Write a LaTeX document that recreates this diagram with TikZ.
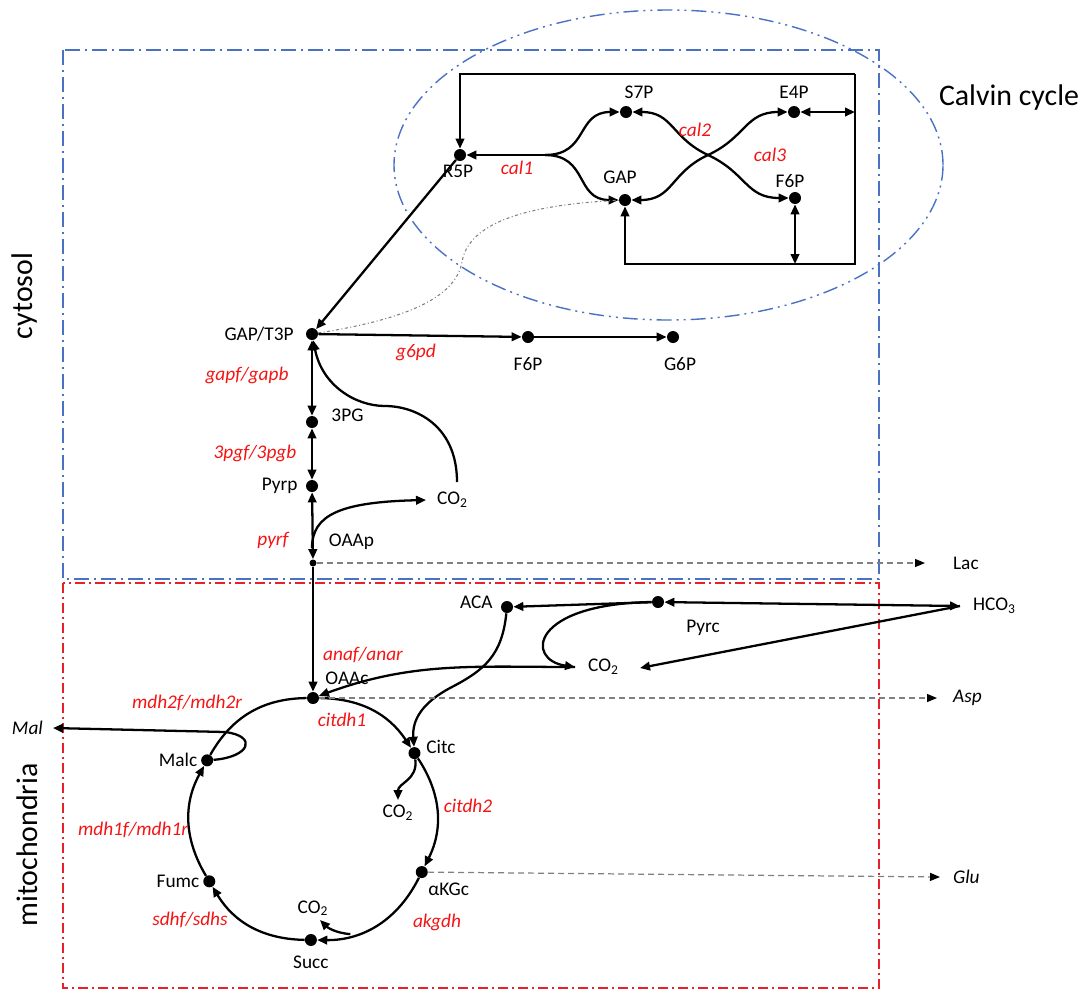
\documentclass[tikz,border=0pt]{standalone}
\usepackage{fontspec}
\setmainfont{Carlito}
\usepackage{xcolor}
\usetikzlibrary{positioning,arrows.meta,calc}
\definecolor{cytblue}{HTML}{4A72C4}
\definecolor{mitred}{HTML}{E8202A}
\definecolor{enzred}{HTML}{F41414}
\tikzset{
  met/.style ={font=\fontsize{11}{13}\selectfont, inner sep=1pt},
  enz/.style ={font=\fontsize{11}{13}\selectfont\itshape, text=enzred, inner sep=1pt},
  ext/.style ={font=\fontsize{11}{13}\selectfont\itshape, inner sep=1pt},
  region/.style={font=\fontsize{17}{20}\selectfont, inner sep=1pt},
  pt/.style  ={circle, fill=black, inner sep=0pt, minimum size=2.4mm},
  spt/.style ={circle, fill=black, inner sep=0pt, minimum size=1.4mm},
  rxn/.style ={line width=1.3pt},
  flux/.style={draw=gray, line width=0.7pt, dash pattern=on 1.2mm off 0.8mm,
               -{Triangle[length=2mm,width=1.6mm,color=black]}},
  cytframe/.style={draw=cytblue, line width=0.8pt, dash pattern=on 3mm off 1mm on 0.4mm off 1mm},
  mitframe/.style={draw=mitred, line width=0.8pt, dash pattern=on 2mm off 0.8mm on 0.4mm off 0.8mm},
  cycframe/.style={draw=cytblue, line width=0.8pt, dash pattern=on 3mm off 1mm on 0.4mm off 1mm on 0.4mm off 1mm},
  link/.style={draw=gray, line width=0.6pt, dash pattern=on 0.6mm off 0.5mm on 0.2mm off 0.5mm},
  >={Triangle[length=2mm,width=1.7mm]},
}

\begin{document}
\begin{tikzpicture}[x=0.2mm, y=0.2mm]
\useasboundingbox (0,0) rectangle (1087,-991);
% compartments
\draw[cytframe] (63,-50) rectangle (879,-579);
\draw[mitframe] (63,-583) rectangle (879,-988);
\draw[cycframe] (668.5,-165) ellipse [x radius=274.5, y radius=155];
\node[region, rotate=90] (cyt) at (25,-296) {cytosol};
\node[region, rotate=90] (mit) at (27,-845) {mitochondria};
\node[region] (calv) at (1009,-98) {Calvin cycle};

% Calvin cycle
\node[pt] (r5p)  at (460,-155) {};
\node[pt] (s7p)  at (626,-112) {};
\node[pt] (gapc) at (625,-200) {};
\node[pt] (e4p)  at (794,-112) {};
\node[pt] (f6pc) at (795,-198) {};
\node[met] (r5pl)  [below=0.3mm of r5p, xshift=-0.4mm] {R5P};
\node[met] (s7pl)  [above=1mm of s7p, xshift=2.6mm] {S7P};
\node[met] (gapcl) [above=1.6mm of gapc, xshift=-1mm] {GAP};
\node[met] (e4pl)  [above=1mm of e4p] {E4P};
\node[met] (f6pcl) [above=0.3mm of f6pc, xshift=-1mm] {F6P};
\coordinate (j1)  at (545,-155);
\coordinate (j2)  at (708,-155);
\coordinate (ctl) at (460,-74);
\coordinate (ctr) at (855,-74);
\coordinate (cbr) at (855,-264);
\coordinate (cbl) at (625,-264);
\coordinate (ce4) at (855,-112);
\coordinate (cf6) at (795,-264);
\draw[rxn,->] (j1) -- (r5p);
\draw[rxn,->] (j1) to[out=0,in=180,looseness=1.3] (s7p);
\draw[rxn,->] (j1) to[out=0,in=180,looseness=1.3] (gapc);
\draw[rxn,->] (j2) to[out=155,in=0,looseness=1.2] (s7p);
\draw[rxn,->] (j2) to[out=-155,in=0,looseness=1.2] (gapc);
\draw[rxn,->] (j2) to[out=25,in=180,looseness=1.2] (e4p);
\draw[rxn,->] (j2) to[out=-25,in=180,looseness=1.2] (f6pc);
\draw[rxn,->] (ctr) -- (ctl) -- (r5p);
\draw[rxn,->] (ctr) -- (cbr) -- (cbl) -- (gapc);
\draw[rxn,<->] (e4p) -- (ce4);
\draw[rxn,<->] (f6pc) -- (cf6);
\node[enz] (cal1) at (517,-168) {cal1};
\node[enz] (cal2) at (695,-130) {cal2};
\node[enz] (cal3) at (770,-155) {cal3};

% cytosol
\node[pt] (t3p)  at (312,-334) {};
\node[pt] (pg3)  at (312,-422) {};
\node[pt] (pyrp) at (312,-486) {};
\node[spt] (oaap) at (313,-563) {};
\node[pt] (f6p)  at (528,-337) {};
\node[pt] (g6p)  at (673,-337) {};
\node[met] (t3pl)  [left=2mm of t3p] {GAP/T3P};
\node[met] (pg3l)  [right=2.2mm of pg3, yshift=1.4mm] {3PG};
\node[met] (pyrpl) [left=1.2mm of pyrp] {Pyrp};
\node[met] (oaapl) [right=2mm of oaap, yshift=4.2mm] {OAAp};
\node[met] (f6pl)  [below=2.4mm of f6p] {F6P};
\node[met] (g6pl)  [below=2.4mm of g6p, xshift=1.4mm] {G6P};
\coordinate (co2ptip) at (426,-500);
\node[met] (co2p) [right=1.8mm of co2ptip] {CO\textsubscript{2}};
\coordinate (co2pup) at (457,-482);
\coordinate (oaapbr) at (312,-548);
\coordinate (lactip) at (925,-563);
\node[met] (lac) [right=5.2mm of lactip] {Lac};
\draw[rxn,->] (r5p) -- (t3p);
\draw[link] (t3p) .. controls (400,-320) and (455,-300) .. (462,-262)
            .. controls (468,-225) and (520,-205) .. (gapc);
\draw[rxn,->] (t3p) -- (f6p);
\draw[rxn,->] (f6p) -- (g6p);
\draw[rxn,<->] (t3p) -- (pg3);
\draw[rxn,<->] (pg3) -- (pyrp);
\draw[rxn,<->] (pyrp) -- (oaap);
\draw[rxn,->] (oaapbr) .. controls (312,-515) and (340,-502) .. (co2ptip);
\draw[rxn,->] (co2pup) .. controls (457,-425) and (415,-406) .. (385,-406)
              .. controls (355,-406) and (322,-385) .. (t3p);
\draw[flux] (oaap) -- (lactip);
\node[enz] (gapf) at (247,-375) {gapf/gapb};
\node[enz] (pgf)  at (255,-453) {3pgf/3pgb};
\node[enz] (pyrf) at (273,-540) {pyrf};
\node[enz] (g6pd) at (416,-352) {g6pd};

% mitochondria
\coordinate (cen) at (313,-819);
\node[pt] (oaac) at ([shift={(90:121)}]cen) {};
\node[pt] (citc) at ([shift={(33:121)}]cen) {};
\node[pt] (akgc) at ([shift={(-26:121)}]cen) {};
\node[pt] (succ) at ([shift={(-91:121)}]cen) {};
\node[pt] (fumc) at ([shift={(-149:121)}]cen) {};
\node[pt] (malc) at ([shift={(151:121)}]cen) {};
\coordinate (akbr) at ([shift={(-72:121)}]cen);
\node[pt] (aca)  at (507,-607) {};
\node[pt] (pyrc) at (658,-602) {};
\node[met] (oaacl) at (347,-678) {OAAc};
\node[met] (acal)  [left=1.2mm of aca, yshift=1mm] {ACA};
\node[met] (pyrcl) at (703,-628) {Pyrc};
\node[met] (citcl) [right=0.7mm of citc, yshift=1.2mm] {Citc};
\node[met] (akgcl) [below right=0.8mm and 0mm of akgc] {αKGc};
\node[met] (succl) [below=1.4mm of succ] {Succ};
\node[met] (fumcl) [left=0.3mm of fumc] {Fumc};
\node[met] (malcl) [left=0.3mm of malc] {Malc};
\coordinate (co2mtip) at (575,-667);
\coordinate (co2metip) at (640,-668);
\node[met] (co2m) [right=2.2mm of co2mtip] {CO\textsubscript{2}};
\coordinate (hco3tip) at (960,-606);
\node[met] (hco3) [right=2.2mm of hco3tip] {HCO\textsubscript{3}};
\coordinate (asptip) at (937,-698);
\node[ext] (asp) [right=2.8mm of asptip] {Asp};
\coordinate (glutip) at (940,-877);
\node[ext] (glu) [right=2.2mm of glutip] {Glu};
\coordinate (maltip) at (53,-728);
\node[ext] (mal) [left=1.6mm of maltip] {Mal};
\coordinate (co2ctip) at (398,-800);
\node[met] (co2c) [below=0.6mm of co2ctip] {CO\textsubscript{2}};
\coordinate (co2stip) at (320,-920);
\node[met] (co2s) [above=0.4mm of co2stip, xshift=-1.4mm] {CO\textsubscript{2}};
% transport into mitochondria
\draw[rxn,->] (oaap) -- (oaac);
% anaplerosis
\draw[rxn,->] (pyrc) -- (aca);
\draw[rxn,<->] (pyrc) -- (hco3tip);
\draw[rxn,->] (hco3tip) -- (co2metip);
\draw[rxn,->] (pyrc.west) .. controls (530,-604) and (525,-660) .. (co2mtip);
\draw[rxn,->] (co2mtip) to[out=180,in=20] (oaac);
\draw[rxn,->] (aca) .. controls (502,-655) and (485,-670) .. (450,-688)
              .. controls (422,-703) and (412,-720) .. (citc);
% TCA cycle
\draw[rxn,->] (oaac) to[bend left=28] (citc);
\draw[rxn,->] (citc) to[bend left=30] (akgc);
\draw[rxn,->] (akgc) to[bend left=32] (succ);
\draw[rxn,->] (succ) to[bend left=29] (fumc);
\draw[rxn,->] (fumc) to[bend left=30] (malc);
\draw[rxn] (malc) to[bend left=30] (oaac);
\draw[rxn,->] (citc) .. controls (418,-780) and (398,-783) .. (co2ctip);
\draw[rxn,->] (akbr) .. controls (335,-933) and (327,-927) .. (co2stip);
\draw[rxn,->] (malc) .. controls (250,-757) and (258,-736) .. (225,-732) -- (maltip);
% exports
\draw[flux] (oaac) -- (asptip);
\draw[flux] (akgc) -- (glutip);
\node[enz] (ana)   at (363,-655) {anaf/anar};
\node[enz] (cit1)  at (342,-720) {citdh1};
\node[enz] (cit2)  at (468,-806) {citdh2};
\node[enz] (akg)   at (437,-922) {akgdh};
\node[enz] (sdh)   at (190,-920) {sdhf/sdhs};
\node[enz] (mdh1)  at (133,-830) {mdh1f/mdh1r};
\node[enz] (mdh2)  at (187,-703) {mdh2f/mdh2r};
\end{tikzpicture}
\end{document}
